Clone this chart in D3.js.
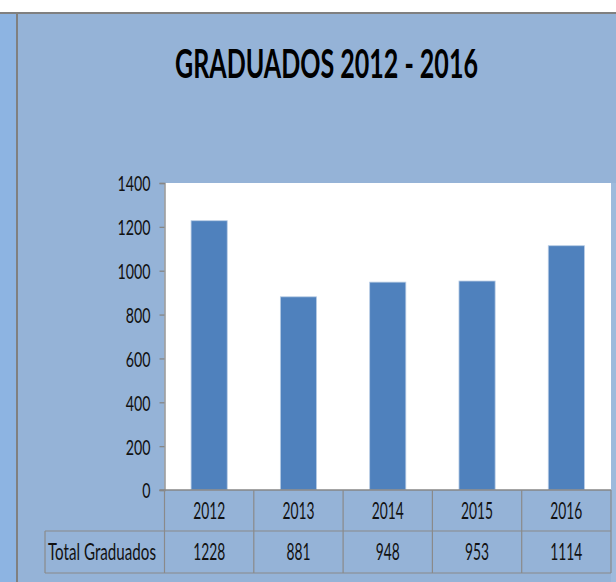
<!DOCTYPE html>
<html>
<head>
<meta charset="utf-8">
<script src="https://cdn.jsdelivr.net/npm/d3@7"></script>
<style>
  html, body { margin: 0; padding: 0; background: #fff; }
  svg { display: block; }
</style>
</head>
<body>
<div id="chart"></div>
<script>
// chart data
const years = ['2012', '2013', '2014', '2015', '2016'];
const graduados = [1228, 881, 948, 953, 1114];
const yTicks = [0, 200, 400, 600, 800, 1000, 1200, 1400];
const titleText = 'GRADUADOS 2012 - 2016';
const rowLabel = 'Total Graduados';

const W = 616, H = 582;
const FONT = 'Lato, "Open Sans", "DejaVu Sans", sans-serif';

const svg = d3.select('#chart').append('svg')
  .attr('width', W).attr('height', H);

// frame: white top strip, light left strip, grey borders, chart area
svg.append('rect').attr('x', 0).attr('y', 0).attr('width', W).attr('height', H).attr('fill', '#fff');
svg.append('rect').attr('x', 0).attr('y', 13).attr('width', 17).attr('height', H - 13).attr('fill', '#8db4e2');
svg.append('rect').attr('x', 18).attr('y', 14).attr('width', W - 18).attr('height', H - 14).attr('fill', '#95b3d7');
svg.append('rect').attr('x', 0).attr('y', 12).attr('width', W).attr('height', 2).attr('fill', '#808080');
svg.append('rect').attr('x', 16).attr('y', 12).attr('width', 2).attr('height', H - 12).attr('fill', '#808080');
svg.append('rect').attr('x', 611).attr('y', 183).attr('width', 5).attr('height', H - 183).attr('fill', '#9dbadc');

// plot area
const plot = { left: 164.5, right: 611, top: 183, bottom: 490 };
const x = d3.scaleBand().domain(years).range([plot.left, plot.right]).paddingInner(0).paddingOuter(0);
const y = d3.scaleLinear().domain([0, 1400]).range([plot.bottom, plot.top]);

svg.append('rect')
  .attr('x', plot.left).attr('y', plot.top)
  .attr('width', plot.right - plot.left).attr('height', plot.bottom - plot.top)
  .attr('fill', '#fff');

// bars (40% of the category width)
const barW = x.bandwidth() * 0.405;
svg.append('g').selectAll('rect.bar').data(graduados).join('rect')
  .attr('class', 'bar')
  .attr('x', (d, i) => x(years[i]) + (x.bandwidth() - barW) / 2)
  .attr('y', d => y(d))
  .attr('width', barW)
  .attr('height', d => y(0) - y(d))
  .attr('fill', '#4f81bd')
  .attr('stroke', '#b9cde5')
  .attr('stroke-width', 0.8);

// squeeze text horizontally (scale around its anchor x) to get the narrow look
function squeeze(sel, sample, target) {
  const probe = svg.append('text').attr('font-family', sel.attr('font-family'))
    .attr('font-size', sel.attr('font-size')).attr('font-weight', sel.attr('font-weight'))
    .text(sample);
  const k = target / probe.node().getComputedTextLength();
  probe.remove();
  sel.each(function () {
    const ax = +(this.getAttribute('x') || 0);
    d3.select(this).attr('transform', `translate(${ax},0) scale(${k},1) translate(${-ax},0)`);
  });
}

// y axis
const yAxis = d3.axisLeft(y).tickValues(yTicks).tickSize(5).tickPadding(9).tickFormat(d3.format('d'));
const gy = svg.append('g').attr('transform', `translate(${plot.left},0)`).call(yAxis);
gy.select('.domain').attr('stroke', '#868686').attr('stroke-width', 1.3);
gy.selectAll('.tick line').attr('stroke', '#868686').attr('stroke-width', 1.3);
gy.selectAll('.tick text')
  .attr('font-family', FONT).attr('font-size', 22).attr('fill', '#111')
  .attr('dy', '0.36em');
squeeze(gy.selectAll('.tick text'), '1400', 33);

// data table
const tbl = svg.append('g');
const rowTop = 490, rowMid = 531, rowBot = 573, tblLeft = 45;
const gridC = '#8a8a8a';
tbl.append('line').attr('x1', plot.left - 5).attr('x2', plot.right).attr('y1', rowTop).attr('y2', rowTop)
  .attr('stroke', '#868686').attr('stroke-width', 1.3);
tbl.append('line').attr('x1', tblLeft).attr('x2', plot.right).attr('y1', rowMid).attr('y2', rowMid)
  .attr('stroke', gridC).attr('stroke-width', 1.2);
tbl.append('line').attr('x1', tblLeft).attr('x2', plot.right).attr('y1', rowBot).attr('y2', rowBot)
  .attr('stroke', gridC).attr('stroke-width', 1.2);
tbl.append('line').attr('x1', tblLeft).attr('x2', tblLeft).attr('y1', rowMid).attr('y2', rowBot)
  .attr('stroke', gridC).attr('stroke-width', 1.2);
const colEdges = years.map(d => x(d)).concat([plot.right]);
tbl.selectAll('line.col').data(colEdges).join('line')
  .attr('class', 'col')
  .attr('x1', d => d).attr('x2', d => d)
  .attr('y1', rowTop).attr('y2', rowBot)
  .attr('stroke', gridC).attr('stroke-width', 1.2);

const yearT = tbl.selectAll('text.yr').data(years).join('text')
  .attr('class', 'yr')
  .attr('x', d => x(d) + x.bandwidth() / 2).attr('y', 519)
  .attr('text-anchor', 'middle')
  .attr('font-family', FONT).attr('font-size', 24).attr('fill', '#111')
  .text(d => d);
squeeze(yearT, '2012', 32);

const valT = tbl.selectAll('text.val').data(graduados).join('text')
  .attr('class', 'val')
  .attr('x', (d, i) => x(years[i]) + x.bandwidth() / 2).attr('y', 560)
  .attr('text-anchor', 'middle')
  .attr('font-family', FONT).attr('font-size', 24).attr('fill', '#111')
  .text(d => d);
squeeze(valT, '1228', 32);

const lab = tbl.append('text')
  .attr('x', 48).attr('y', 560)
  .attr('font-family', FONT).attr('font-size', 24).attr('fill', '#111')
  .text(rowLabel);
squeeze(lab, rowLabel, 108);

// title
const title = svg.append('text')
  .attr('x', 326.5).attr('y', 78)
  .attr('text-anchor', 'middle')
  .attr('font-family', FONT).attr('font-size', 41).attr('font-weight', 'bold').attr('fill', '#000')
  .text(titleText);
squeeze(title, titleText, 303);
</script>
</body>
</html>
